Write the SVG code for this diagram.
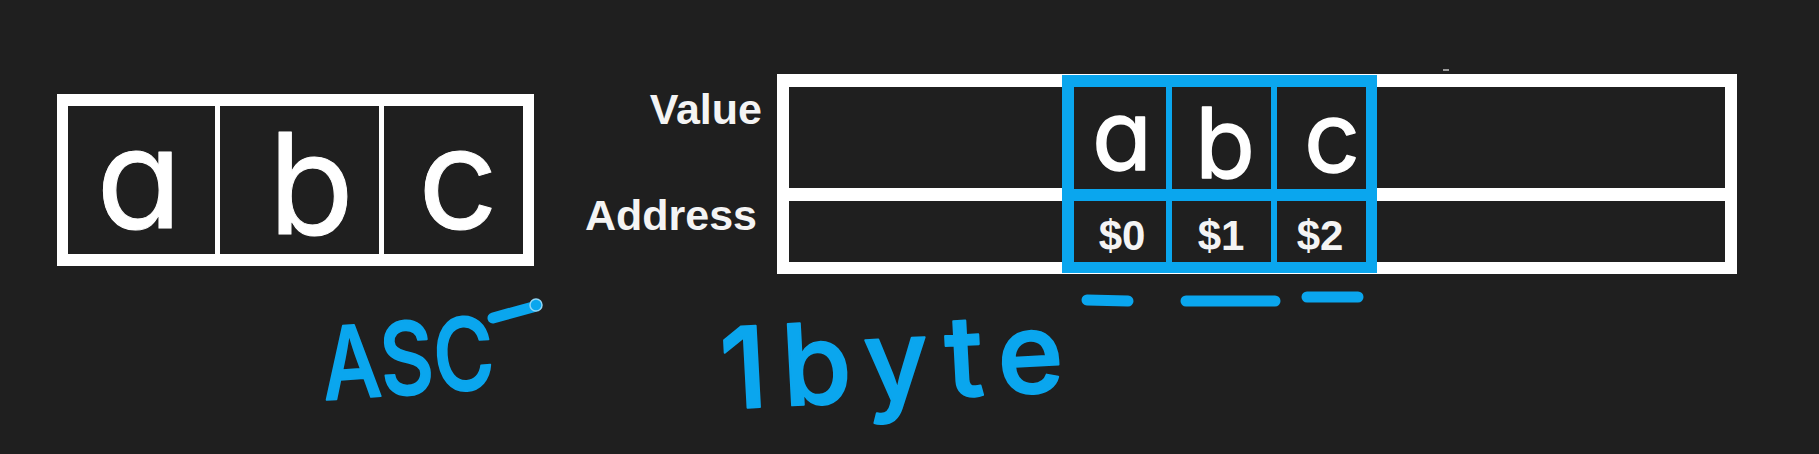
<svg xmlns="http://www.w3.org/2000/svg" width="1819" height="454" viewBox="0 0 1819 454">
<style>
.bg{fill:#1f1f1f}
.frame{fill:#ffffff}
.blue{fill:#0aa6ee}
.cell{fill:#1f1f1f}
.hand{font-family:Inter,"Liberation Sans",sans-serif;font-feature-settings:"cv11";font-weight:400;fill:#ffffff;stroke:#ffffff;stroke-linejoin:round;text-anchor:middle}
.label{font-family:"Liberation Sans",Arial,sans-serif;font-weight:bold;fill:#f4f4f4;text-anchor:end}
.addr{font-family:"Liberation Sans",Arial,sans-serif;font-weight:bold;fill:#f4f4f4;text-anchor:middle;font-size:42px}
.note{font-family:Inter,"Liberation Sans",sans-serif;font-feature-settings:"cv11";font-weight:500;fill:#0aa6ee;stroke:#0aa6ee;stroke-width:2;stroke-linejoin:round}
.mark{stroke:#0aa6ee;stroke-width:11;stroke-linecap:round;fill:none}
</style>
<rect class="bg" x="0" y="0" width="1819" height="454"/>

<g id="array-abc">
  <rect class="frame" x="57" y="94" width="477" height="172"/>
  <rect class="cell" x="68" y="106" width="147" height="148"/>
  <rect class="cell" x="220" y="106" width="159" height="148"/>
  <rect class="cell" x="384" y="106" width="139" height="148"/>
  <text class="hand" x="139" y="228" font-size="140" stroke-width="1">a</text>
  <text class="hand" x="311" y="234" font-size="140" stroke-width="1">b</text>
  <text class="hand" x="458" y="228" font-size="140" stroke-width="1">c</text>
</g>

<g id="row-labels">
  <text class="label" x="762" y="124" font-size="43">Value</text>
  <text class="label" x="757" y="230" font-size="43">Address</text>
</g>

<g id="memory">
  <rect class="frame" x="777" y="74" width="960" height="200"/>
  <rect class="cell" x="789" y="87" width="936" height="101"/>
  <rect class="cell" x="789" y="201" width="936" height="61"/>
  <rect x="1443" y="69" width="6" height="2" fill="#9a9a9a"/>
</g>

<g id="highlight-bytes">
  <rect class="blue" x="1062" y="75" width="315" height="198"/>
  <rect class="cell" x="1074" y="87" width="92" height="102"/>
  <rect class="cell" x="1172" y="87" width="99" height="102"/>
  <rect class="cell" x="1277" y="87" width="89" height="102"/>
  <rect class="cell" x="1074" y="201" width="92" height="61"/>
  <rect class="cell" x="1172" y="201" width="99" height="61"/>
  <rect class="cell" x="1277" y="201" width="89" height="61"/>
  <text class="hand" x="1122" y="170" font-size="98" stroke-width="1.5">a</text>
  <text class="hand" x="1225" y="178" font-size="98" stroke-width="1.5">b</text>
  <text class="hand" x="1332" y="172" font-size="98" stroke-width="1.5">c</text>
  <text class="addr" x="1122" y="250">$0</text>
  <text class="addr" x="1221" y="250">$1</text>
  <text class="addr" x="1320" y="250">$2</text>
</g>

<g id="annotations">
  <text class="note" x="324" y="394" font-size="100" textLength="172" lengthAdjust="spacingAndGlyphs" transform="rotate(-4 410 390)">ASC</text>
  <line class="mark" x1="493" y1="318" x2="533" y2="307"/>
  <circle cx="536" cy="305" r="6" fill="#0aa6ee" stroke="#8fd6f7" stroke-width="1.5"/>
  <text class="note" x="722" y="400" font-size="112" textLength="343" lengthAdjust="spacing" stroke-width="4" transform="rotate(-3 893 395)">1byte</text>
  <line class="mark" x1="1087" y1="300" x2="1128" y2="301"/>
  <line class="mark" x1="1186" y1="301" x2="1275" y2="301"/>
  <line class="mark" x1="1307" y1="297" x2="1358" y2="297"/>
</g>
</svg>
